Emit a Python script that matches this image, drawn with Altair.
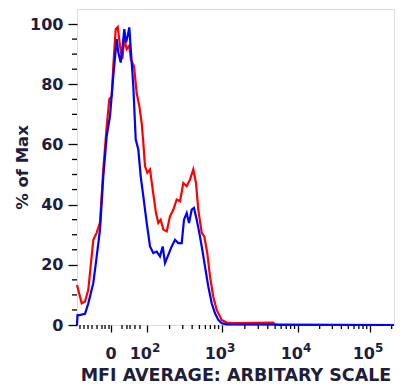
import altair as alt
import pandas as pd
import numpy as np

# x values are display channels of the biexponential axis (0 = left edge, 317 = right edge)
red_x = [0, 4.7, 8, 11.3, 16.3, 19.7, 23, 26.3, 29.7, 32.3, 34.7, 36.3, 38.7, 40.7, 43,
         45.3, 47.3, 49.7, 52.3, 54, 57, 59.7, 62.3, 64.7, 66.3, 68, 70.3, 73, 75.7, 79,
         81.3, 83.7, 86.3, 89.7, 93, 96.3, 99.7, 103, 106.3, 109.7, 113, 116.3, 119, 121.3,
         124.7, 127.3, 130.3, 133, 136.3, 139.7, 144.7, 149.7, 156.3, 196, 199, 317]
red_y = [13.3, 7.2, 7.8, 11.7, 28.3, 30.7, 34, 51.7, 66, 75, 76, 86, 98.3, 99, 92.8,
         88.3, 95, 91.7, 92.8, 88, 86, 77, 72.8, 67, 60.6, 52.8, 50.6, 51.7, 45, 37.2,
         33.9, 35, 31.7, 31.1, 36.1, 38.3, 41.7, 41.1, 47.2, 46.1, 48.3, 51.7, 47.2, 38.3,
         30.6, 29.4, 23.9, 16.1, 9.4, 5, 1.7, 0.8, 0.6, 0.8, 0, 0]

blue_x = [0, 0.5, 2.3, 8, 11.3, 16.3, 19.7, 23, 26.3, 29.7, 33, 36.3, 39.7, 41.3, 43.7,
          45.7, 47.3, 49, 50.7, 52.3, 54, 56.3, 58.7, 61.3, 63.7, 66.3, 69.7, 73, 76.3,
          79.7, 83, 85.7, 88, 91.3, 94.7, 98, 101.3, 104.7, 107, 109.7, 112, 114.7, 117,
          119.7, 122.3, 125.3, 128, 131.3, 134.7, 138, 141.3, 144.7, 149.7, 317]
blue_y = [0, 3.3, 3.3, 3.7, 7.2, 13.9, 22.8, 31.7, 49.4, 62.8, 69.4, 82.8, 95, 90.6, 87.2,
          92.8, 98.3, 93.9, 96.1, 98.9, 90.6, 79.4, 61.7, 58.3, 49.4, 42.8, 33.9, 26.1, 23.9,
          24.4, 22.8, 26.1, 20.6, 23.3, 26.1, 28.3, 27.2, 27.2, 35, 37.2, 33.9, 38.3, 38.9,
          35, 30.6, 25, 19.4, 12.8, 7.2, 3.9, 1.7, 0.6, 0.2, 0]

# axis ticks (display channels)
x_major = [34, 70, 145, 221, 293]
x_label_base = ["0", "10", "10", "10", "10"]
x_label_exp = ["", "2", "3", "4", "5"]
x_linear_minor = [3, 7, 11, 15, 20, 25, 28, 32, 45, 50, 53, 58, 63]
decade_starts = [70, 145, 221, 293]
decade_widths = [75, 76, 72, 72]
y_major = [0, 20, 40, 60, 80, 100]
y_minor = [5, 10, 15, 25, 30, 35, 45, 50, 55, 65, 70, 75, 85, 90, 95]

x_minor = list(x_linear_minor)
for s, w in zip(decade_starts, decade_widths):
    for k in range(2, 10):
        p = s + np.log10(k) * w
        if p < 317:
            x_minor.append(round(float(p), 2))

TXT = "#1e1e3c"
FONT = "DejaVu Sans"

red_df = pd.DataFrame({"x": red_x, "y": red_y})
blue_df = pd.DataFrame({"x": blue_x, "y": blue_y})
lab_df = pd.DataFrame({"x": x_major, "base": x_label_base, "exp": x_label_exp})

xscale = alt.Scale(domain=[0, 317], nice=False, zero=False)
yscale = alt.Scale(domain=[0, 105], nice=False, zero=False)

xaxis = alt.Axis(values=x_major, labels=False, tickSize=7, tickWidth=1.3,
                 tickColor="black", domain=False, grid=False,
                 title="MFI AVERAGE: ARBITARY SCALE", titleFont=FONT, titleFontSize=17.5,
                 titleFontWeight="bold", titleColor=TXT, titleBaseline="alphabetic",
                 titleY=55)
yaxis = alt.Axis(values=y_major, tickSize=9, tickWidth=1.3, tickColor="black",
                 domain=False, grid=False,
                 labelFont=FONT, labelFontSize=16, labelFontWeight="bold", labelColor=TXT,
                 labelPadding=5,
                 title="% of Max", titleFont=FONT, titleFontSize=16.5, titleFontWeight="bold",
                 titleColor=TXT, titleBaseline="alphabetic", titleX=-50, titleY=158)

red = alt.Chart(red_df).mark_line(color="#ff0000", strokeWidth=2.2).encode(
    x=alt.X("x:Q", scale=xscale, axis=xaxis),
    y=alt.Y("y:Q", scale=yscale, axis=yaxis),
    order="x:Q",
)
blue = alt.Chart(blue_df).mark_line(color="#0000ff", strokeWidth=2.2).encode(
    x=alt.X("x:Q", scale=xscale),
    y=alt.Y("y:Q", scale=yscale),
    order="x:Q",
)

xminor = alt.Chart(pd.DataFrame({"x": x_minor})).mark_rule(color="black", strokeWidth=1.3).encode(
    x=alt.X("x:Q", scale=xscale),
    y=alt.value(316), y2=alt.value(320),
)
yminor = alt.Chart(pd.DataFrame({"y": y_minor})).mark_rule(color="black", strokeWidth=1.3).encode(
    y=alt.Y("y:Q", scale=yscale),
    x=alt.value(0), x2=alt.value(-5),
)

zero_lab = alt.Chart(lab_df).transform_filter("datum.exp == ''").mark_text(
    font=FONT, fontSize=16, fontWeight="bold", color=TXT, align="center",
    baseline="alphabetic",
).encode(x=alt.X("x:Q", scale=xscale), y=alt.value(350), text="base:N")

base_lab = alt.Chart(lab_df).transform_filter("datum.exp != ''").mark_text(
    font=FONT, fontSize=16, fontWeight="bold", color=TXT, align="right",
    baseline="alphabetic", dx=5,
).encode(x=alt.X("x:Q", scale=xscale), y=alt.value(350), text="base:N")

exp_lab = alt.Chart(lab_df).transform_filter("datum.exp != ''").mark_text(
    font=FONT, fontSize=12, fontWeight="bold", color=TXT, align="left",
    baseline="alphabetic", dx=5,
).encode(x=alt.X("x:Q", scale=xscale), y=alt.value(343), text="exp:N")

chart = alt.layer(red, blue, xminor, yminor, zero_lab, base_lab, exp_lab).properties(
    width=317, height=316,
    autosize=alt.AutoSizeParams(type="none"),
    padding={"left": 77, "top": 9, "right": 8, "bottom": 60},
).configure_view(stroke="black", strokeWidth=1.5).configure(background="white")

chart.save("out.html", embed_options={"renderer": "svg", "actions": False})
